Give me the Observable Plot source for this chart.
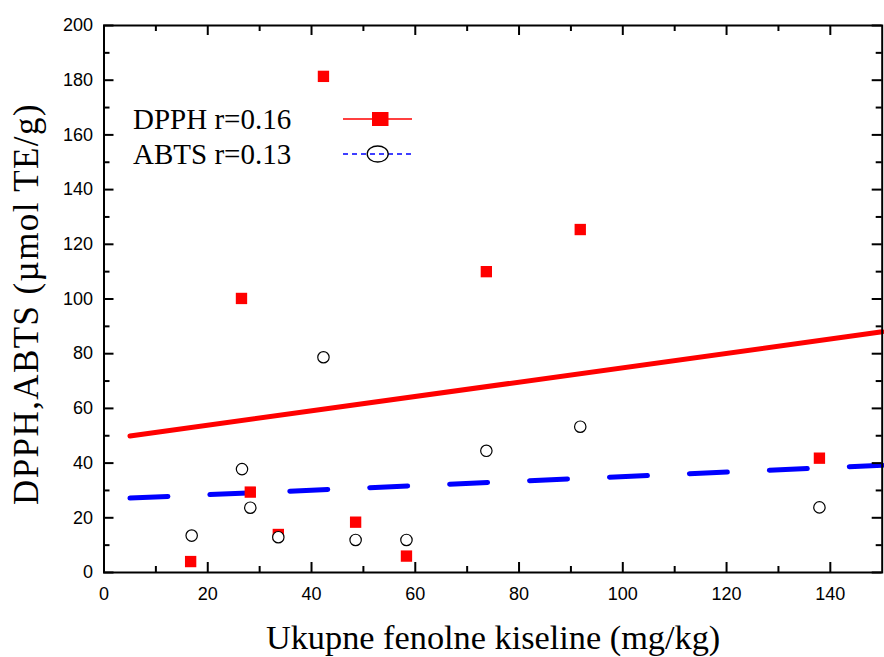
<!DOCTYPE html>
<html>
<head>
<meta charset="utf-8">
<script src="https://cdn.jsdelivr.net/npm/d3@7"></script>
<script src="https://cdn.jsdelivr.net/npm/@observablehq/plot@0.6"></script>
<style>
  html, body { margin: 0; padding: 0; background: #fff; }
  #wrap { position: relative; width: 884px; height: 657px; }
  #legend { position: absolute; left: 0; top: 0; pointer-events: none; }
</style>
</head>
<body>
<div id="wrap"></div>
<script>
// ---- data ----
const fenolne = [16.7, 26.5, 28.2, 33.6, 42.3, 48.5, 58.3, 73.7, 91.8, 137.9];
const dpph    = [4.0, 100.2, 29.4, 13.9, 181.4, 18.4, 6.0, 110.0, 125.4, 41.8];
const abtsX   = [16.9, 26.6, 28.2, 33.6, 42.3, 48.5, 58.3, 73.7, 91.8, 137.9];
const abts    = [13.5, 37.8, 23.7, 12.9, 78.7, 11.9, 11.9, 44.5, 53.3, 23.8];
const fitX    = [5, 150];
const dpphFit = [49.9, 88.0];
const abtsFit = [27.2, 39.2];
const xMajor = [0, 20, 40, 60, 80, 100, 120, 140];
const xMinor = [10, 30, 50, 70, 90, 110, 130];
const yMajor = [0, 20, 40, 60, 80, 100, 120, 140, 160, 180, 200];
const yMinor = [10, 30, 50, 70, 90, 110, 130, 150, 170, 190];
const legendLabels = ["DPPH r=0.16", "ABTS r=0.13"];
const xTitle = "Ukupne fenolne kiseline (mg/kg)";
const yTitle = "DPPH,ABTS (µmol TE/g)";

const W = 884, H = 657;
const mL = 103.5, mR = 2.3, mT = 25, mB = 85;
const fw = W - mL - mR, fh = H - mT - mB;

const dpphData = fenolne.map((x, i) => ({x, y: dpph[i]}));
const abtsData = abtsX.map((x, i) => ({x, y: abts[i]}));
const dpphLine = fitX.map((x, i) => ({x, y: dpphFit[i]}));
const abtsLine = fitX.map((x, i) => ({x, y: abtsFit[i]}));

const sans = "Liberation Sans, Arial, sans-serif";
const serif = "Liberation Serif, Times New Roman, serif";

const chart = Plot.plot({
  width: W, height: H,
  marginLeft: mL, marginRight: mR, marginTop: mT, marginBottom: mB,
  style: {background: "#fff", color: "#000"},
  x: {domain: [0, 150]},
  y: {domain: [0, 200]},
  marks: [
    // fitted lines
    Plot.line(dpphLine, {x: "x", y: "y", stroke: "#ff0000", strokeWidth: 5, strokeLinecap: "round"}),
    Plot.line(abtsLine, {x: "x", y: "y", stroke: "#0000ff", strokeWidth: 5, strokeLinecap: "round", strokeDasharray: "38,42"}),
    // data
    Plot.dot(dpphData, {x: "x", y: "y", symbol: "square", r: 6.4, fill: "#ff0000", stroke: "none"}),
    Plot.dot(abtsData, {x: "x", y: "y", r: 5.7, fill: "#fff", stroke: "#000", strokeWidth: 1.2}),
    // inward ticks on four sides
    Plot.tickX(xMajor, {x: d => d, insetTop: fh - 10, strokeWidth: 2}),
    Plot.tickX(xMinor, {x: d => d, insetTop: fh - 6, strokeWidth: 2}),
    Plot.tickX(xMajor, {x: d => d, insetBottom: fh - 10, strokeWidth: 2}),
    Plot.tickX(xMinor, {x: d => d, insetBottom: fh - 6, strokeWidth: 2}),
    Plot.tickY(yMajor, {y: d => d, insetRight: fw - 10, strokeWidth: 2}),
    Plot.tickY(yMinor, {y: d => d, insetRight: fw - 6, strokeWidth: 2}),
    Plot.tickY(yMajor, {y: d => d, insetLeft: fw - 10, strokeWidth: 2}),
    Plot.tickY(yMinor, {y: d => d, insetLeft: fw - 6, strokeWidth: 2}),
    Plot.frame({stroke: "#000", strokeWidth: 2}),
    // tick labels
    Plot.axisX({ticks: xMajor, tickSize: 0, tickPadding: 15, fontSize: 18, fontFamily: sans, label: null}),
    Plot.axisY({ticks: yMajor, tickSize: 0, tickPadding: 11, fontSize: 18, fontFamily: sans, label: null}),
    // axis titles
    Plot.text([xTitle], {text: d => d, frameAnchor: "bottom", dy: 76, lineAnchor: "bottom", textAnchor: "middle", fontSize: 34.3, fontFamily: serif, fill: "#000"}),
    Plot.text([yTitle], {text: d => d, frameAnchor: "left", dx: -66.5, dy: 5, rotate: -90, lineAnchor: "bottom", textAnchor: "middle", fontSize: 35, fontFamily: serif, fill: "#000"})
  ]
});
document.getElementById("wrap").appendChild(chart);
// stretch the y title slightly to match the reference's wider setting
d3.select(chart).selectAll("text").filter(function() { return this.textContent === yTitle; })
  .style("letter-spacing", "1.4px");

// legend overlay
const leg = d3.select("#wrap").append("svg")
  .attr("id", "legend").attr("width", W).attr("height", H);
const rows = [
  {label: legendLabels[0], y: 119, color: "#ff0000", dash: null, sym: "square"},
  {label: legendLabels[1], y: 154, color: "#0000ff", dash: "5,4", sym: "circle"}
];
rows.forEach((r) => {
  leg.append("text").attr("x", 133).attr("y", r.y + 9.5)
    .attr("font-family", serif).attr("font-size", 29).attr("fill", "#000").text(r.label);
  leg.append("line").attr("x1", 343).attr("x2", 412).attr("y1", r.y).attr("y2", r.y)
    .attr("stroke", r.color).attr("stroke-width", 1.5).attr("stroke-dasharray", r.dash);
  if (r.sym === "square") {
    leg.append("rect").attr("x", 372).attr("y", r.y - 7).attr("width", 16.5).attr("height", 14).attr("fill", r.color);
  } else {
    leg.append("ellipse").attr("cx", 377.7).attr("cy", r.y).attr("rx", 10.5).attr("ry", 8)
      .attr("fill", "none").attr("stroke", "#000").attr("stroke-width", 1.3);
  }
});
</script>
</body>
</html>
